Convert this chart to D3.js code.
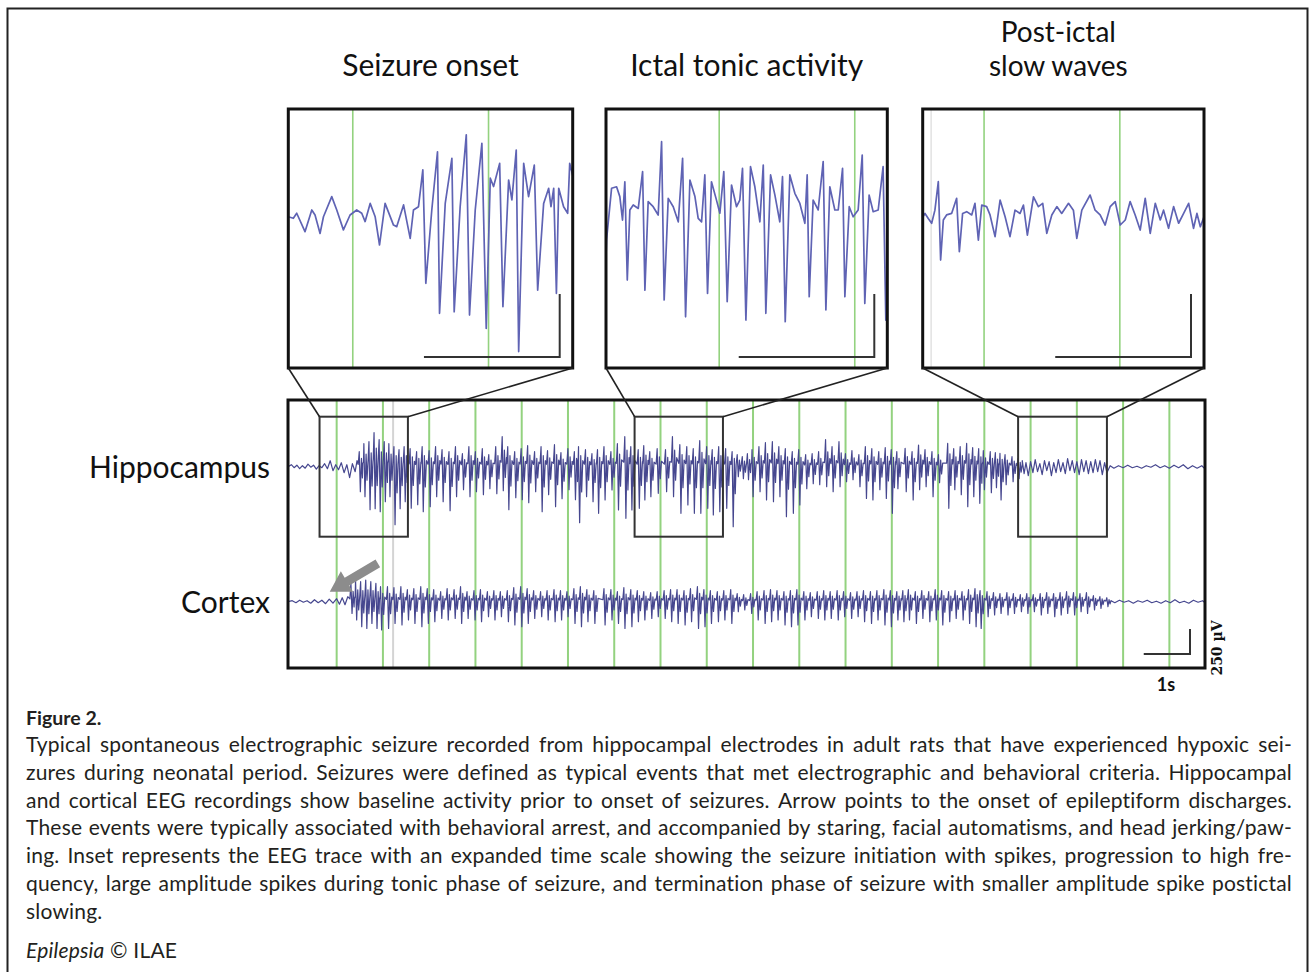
<!DOCTYPE html>
<html>
<head>
<meta charset="utf-8">
<title>Figure 2 - spontaneous electrographic seizure</title>
<script src="https://d3js.org/d3.v7.min.js"></script>
<style>
  body { margin: 0; background: #fff; }
  svg { display: block; font-family: Lato, "Open Sans", sans-serif; }
</style>
</head>
<body>
<svg id="fig" width="1312" height="972"></svg>
<script>
// ---- data (time in s, amplitude in µV) ----
const channelLabels = ["Hippocampus", "Cortex"];
const insetTitles = [["Seizure onset"], ["Ictal tonic activity"], ["Post-ictal", "slow waves"]];
const secondMarks = [0, 1, 2, 3, 4, 5, 6, 7, 8, 9, 10, 11, 12, 13, 14, 15, 16, 17, 18];
const grayMark = 1.22;

// zoomed windows: what the insets show, and the boxes drawn on the hippocampal trace
const insetWindows = [[-0.475, 1.62], [6.165, 8.24], [14.548, 16.62]];
const boxWindows = [[-0.37, 1.54], [6.44, 8.35], [14.73, 16.65]];
const boxRange = [-700, 500];

// main trace discharges: [time, positive peak, negative peak]
const hippoSpikes = [
  [0.50,150,-250],[0.60,230,-300],[0.71,250,-430],[0.82,340,-420],[0.93,270,-450],[1.04,250,-350],
  [1.14,230,-300],[1.25,200,-580],[1.36,170,-420],[1.47,200,-350],[1.60,180,-415],[1.74,150,-380],
  [1.86,200,-450],[2.01,160,-400],[2.15,200,-300],[2.29,170,-350],[2.44,150,-440],[2.58,200,-300],
  [2.73,130,-230],[2.87,200,-300],[3.01,150,-250],[3.16,180,-280],[3.30,120,-220],[3.45,200,-270],
  [3.59,300,-240],[3.71,200,-430],[3.86,150,-310],[4.00,180,-330],[4.14,210,-360],[4.29,150,-250],
  [4.43,200,-450],[4.57,160,-280],[4.72,220,-400],[4.86,140,-320],[5.01,180,-230],[5.15,150,-330],
  [5.24,200,-560],[5.39,170,-300],[5.53,130,-350],[5.65,170,-466],[5.79,200,-333],[5.94,150,-233],
  [6.08,230,-433],[6.24,300,-516],[6.37,200,-433],[6.53,170,-416],[6.65,210,-333],[6.78,150,-300],
  [6.94,180,-266],[7.12,170,-250],[7.27,300,-300],[7.43,220,-466],[7.58,200,-383],[7.72,180,-466],
  [7.86,260,-466],[8.01,200,-416],[8.13,170,-483],[8.27,200,-450],[8.42,180,-416],[8.56,150,-600],
  [8.67,120,-100],[8.78,100,-120],[8.89,130,-130],[8.99,170,-300],[9.14,200,-250],[9.28,240,-333],
  [9.43,250,-350],[9.57,200,-300],[9.71,180,-500],[9.86,150,-466],[10.00,170,-383],[10.15,120,-220],
  [10.29,130,-170],[10.43,150,-180],[10.58,270,-200],[10.72,200,-250],[10.87,250,-200],[11.01,130,-150],
  [11.15,160,-130],[11.30,120,-200],[11.44,200,-317],[11.58,180,-333],[11.73,150,-230],[11.87,190,-317],
  [12.00,170,-466],[12.12,150,-220],[12.30,183,-250],[12.45,150,-333],[12.59,217,-230],[12.73,170,-200],
  [12.88,150,-300],[13.02,120,-160],[13.22,233,-416],[13.35,180,-230],[13.49,200,-280],[13.63,233,-400],
  [13.76,190,-300],[13.89,180,-366],[13.99,160,-230],[14.14,150,-260],[14.25,140,-210],[14.35,133,-333],
  [14.46,120,-180],[14.61,100,-150],[14.74,80,-120]
];
const cortexSpikes = [
  [0.32,183,-117],[0.42,217,-183],[0.53,200,-250],[0.64,217,-267],[0.75,200,-217],[0.86,183,-267],
  [0.96,150,-283],[1.11,150,-267],[1.25,140,-217],[1.40,150,-233],[1.54,120,-183],[1.68,130,-217],
  [1.83,150,-250],[1.97,130,-217],[2.11,120,-200],[2.26,100,-167],[2.40,130,-183],[2.55,120,-167],
  [2.69,150,-217],[2.83,100,-167],[2.98,110,-183],[3.12,120,-200],[3.27,100,-150],[3.41,110,-183],
  [3.55,100,-150],[3.70,110,-200],[3.84,140,-233],[3.99,150,-250],[4.13,130,-217],[4.27,110,-167],
  [4.42,100,-150],[4.56,110,-183],[4.71,120,-200],[4.85,110,-183],[4.99,100,-150],[5.14,130,-217],
  [5.28,150,-250],[5.42,120,-200],[5.57,110,-217],[5.79,130,-233],[5.94,120,-183],[6.08,100,-217],
  [6.22,140,-267],[6.37,120,-250],[6.51,110,-200],[6.65,100,-183],[6.80,90,-167],[6.94,100,-150],
  [7.09,110,-167],[7.23,120,-200],[7.37,120,-217],[7.52,110,-233],[7.66,130,-200],[7.81,150,-267],
  [7.95,120,-250],[8.09,110,-217],[8.24,100,-200],[8.38,110,-183],[8.53,120,-217],[8.67,80,-100],
  [8.81,70,-83],[8.96,80,-117],[9.10,100,-183],[9.25,110,-217],[9.39,120,-200],[9.53,110,-183],
  [9.68,100,-233],[9.82,110,-250],[9.96,120,-233],[10.11,100,-183],[10.25,90,-150],[10.40,100,-167],
  [10.54,110,-183],[10.68,100,-167],[10.83,110,-183],[10.97,100,-150],[11.12,90,-167],[11.26,100,-150],
  [11.40,110,-200],[11.55,100,-217],[11.69,110,-183],[11.84,120,-233],[11.98,110,-250],[12.12,100,-183],
  [12.25,110,-200],[12.37,120,-183],[12.52,100,-217],[12.66,110,-167],[12.81,100,-200],[12.95,120,-183],
  [13.09,110,-233],[13.24,100,-200],[13.38,110,-167],[13.53,100,-183],[13.67,120,-217],[13.81,130,-250],
  [13.92,110,-267],[14.07,100,-150],[14.21,90,-133],[14.35,80,-117],[14.50,90,-133],[14.64,80,-117],
  [14.79,70,-100],[14.93,80,-117],[15.07,70,-100],[15.22,80,-133],[15.36,90,-117],[15.51,80,-150],
  [15.65,90,-133],[15.79,100,-117],[15.94,90,-133],[16.08,80,-100],[16.22,90,-117],[16.37,60,-83],
  [16.51,50,-67],[16.66,40,-50]
];

// background activity outside the discharges: [time, µV]
const hippoBackground = [
  [-1.05,0],[-0.98,20],[-0.92,-10],[-0.86,15],[-0.80,-20],[-0.74,10],[-0.68,-15],[-0.62,25],[-0.56,-5],
  [-0.50,15],[-0.44,-25],[-0.38,10],[-0.32,-10],[-0.26,30],[-0.20,-20],[-0.14,60],[-0.08,-40],[-0.02,20],
  [0.04,-30],[0.10,40],[0.16,-60],[0.22,20],[0.28,-110],[0.34,30],[0.40,-50],[0.44,60],
  [14.82,60],[14.86,-70],[14.90,40],[14.95,-90],[15.00,50],[15.05,-60],[15.10,70],[15.15,-50],[15.20,30],
  [15.25,-80],[15.30,60],[15.35,-40],[15.40,50],[15.45,-90],[15.50,40],[15.55,-60],[15.60,70],[15.65,-50],
  [15.70,40],[15.75,-70],[15.80,80],[15.85,-40],[15.90,60],[15.95,-60],[16.00,50],[16.05,-80],[16.10,70],
  [16.15,-50],[16.20,60],[16.25,-70],[16.30,50],[16.35,-60],[16.40,70],[16.45,-50],[16.50,60],[16.55,-80],
  [16.60,40],[16.65,-60],[16.72,10],[16.80,-15],[16.90,10],[17.00,-10],[17.10,15],[17.20,-10],[17.30,5],
  [17.40,-15],[17.50,10],[17.60,-5],[17.70,20],[17.80,-10],[17.90,10],[18.00,-15],[18.10,15],[18.20,-10],
  [18.30,20],[18.40,-20],[18.50,10],[18.60,-15],[18.70,10],[18.77,-20]
];
const cortexBackground = [
  [-1.05,0],[-0.96,10],[-0.88,-10],[-0.80,15],[-0.72,-5],[-0.64,10],[-0.56,-15],[-0.48,20],[-0.40,-10],
  [-0.32,15],[-0.24,-20],[-0.16,25],[-0.08,-15],[0.00,30],[0.06,-25],[0.12,40],[0.18,-30],[0.24,50],
  [16.74,10],[16.82,-10],[16.92,15],[17.02,-5],[17.12,10],[17.22,-15],[17.32,10],[17.42,-5],[17.52,15],
  [17.62,-10],[17.72,5],[17.82,-15],[17.92,10],[18.02,-10],[18.12,20],[18.22,-10],[18.32,5],[18.42,-15],
  [18.52,15],[18.62,-5],[18.72,10],[18.77,-10]
];

// inset traces (expanded time scale), hippocampus: [time, µV]
const onsetTrace = [
  [-0.475,-15],[-0.438,-21],[-0.413,-1],[-0.352,-74],[-0.302,12],[-0.278,-8],[-0.241,-81],[-0.216,-15],
  [-0.155,65],[-0.118,12],[-0.069,-67],[-0.020,-8],[0.029,12],[0.066,-1],[0.091,-34],[0.128,38],
  [0.165,-15],[0.197,-127],[0.238,38],[0.300,-48],[0.324,-54],[0.374,32],[0.423,-101],[0.447,12],
  [0.484,25],[0.516,171],[0.538,-279],[0.582,12],[0.624,243],[0.639,-398],[0.681,38],[0.730,217],
  [0.747,-392],[0.791,25],[0.836,310],[0.860,-405],[0.902,12],[0.951,276],[0.983,-458],[1.013,138],
  [1.037,105],[1.082,197],[1.106,-372],[1.148,131],[1.172,52],[1.204,250],[1.222,-550],[1.259,197],
  [1.295,65],[1.337,190],[1.362,-306],[1.406,38],[1.443,98],[1.460,25],[1.480,98],[1.500,-319],
  [1.517,98],[1.553,25],[1.583,-1],[1.598,197],[1.62,150]
];
const tonicTrace = [
  [6.165,-200],[6.169,-132],[6.206,73],[6.243,79],[6.267,40],[6.287,-53],[6.304,99],[6.322,-291],
  [6.341,-13],[6.366,7],[6.403,-7],[6.435,139],[6.452,-331],[6.476,20],[6.513,0],[6.550,-33],
  [6.575,258],[6.594,-370],[6.624,33],[6.661,0],[6.698,-60],[6.730,192],[6.752,-437],[6.784,106],
  [6.821,40],[6.845,-46],[6.870,-60],[6.894,126],[6.914,-344],[6.943,99],[6.980,26],[7.005,-26],
  [7.034,139],[7.059,-377],[7.091,86],[7.128,0],[7.152,26],[7.172,152],[7.197,-450],[7.231,159],
  [7.263,79],[7.300,-60],[7.325,165],[7.344,-423],[7.379,126],[7.411,46],[7.447,-60],[7.467,119],
  [7.487,-456],[7.521,126],[7.558,53],[7.595,13],[7.632,-66],[7.649,126],[7.664,-357],[7.693,26],
  [7.730,-13],[7.767,179],[7.787,-410],[7.816,79],[7.853,-13],[7.878,-13],[7.910,152],[7.927,-357],
  [7.959,0],[7.988,-40],[8.025,-13],[8.055,205],[8.074,-384],[8.106,46],[8.136,-20],[8.173,-13],
  [8.209,159],[8.229,-450],[8.24,-300]
];
const postictalTrace = [
  [14.55,0],[14.565,13],[14.589,-7],[14.614,-26],[14.638,26],[14.663,139],[14.680,-172],[14.700,-13],
  [14.724,7],[14.761,13],[14.798,73],[14.818,-139],[14.842,13],[14.872,20],[14.909,7],[14.933,53],
  [14.958,-93],[14.983,46],[15.019,40],[15.044,7],[15.081,-79],[15.118,66],[15.155,0],[15.191,-79],
  [15.228,26],[15.265,13],[15.290,46],[15.319,-73],[15.364,79],[15.400,40],[15.432,53],[15.462,-66],
  [15.499,7],[15.536,40],[15.572,13],[15.622,53],[15.658,26],[15.683,-86],[15.720,26],[15.781,86],
  [15.818,26],[15.855,7],[15.892,-33],[15.929,40],[15.966,60],[16.003,-33],[16.040,-13],[16.076,60],
  [16.113,7],[16.150,-53],[16.187,73],[16.224,-66],[16.261,53],[16.298,-13],[16.322,26],[16.359,-46],
  [16.396,40],[16.433,-26],[16.470,13],[16.507,53],[16.543,-46],[16.568,13],[16.593,-40],[16.62,0]
];
const insetTraces = [onsetTrace, tonicTrace, postictalTrace];

const captionTitle = "Figure 2.";
const captionLines = [
  "Typical spontaneous electrographic seizure recorded from hippocampal electrodes in adult rats that have experienced hypoxic sei-",
  "zures during neonatal period. Seizures were defined as typical events that met electrographic and behavioral criteria. Hippocampal",
  "and cortical EEG recordings show baseline activity prior to onset of seizures. Arrow points to the onset of epileptiform discharges.",
  "These events were typically associated with behavioral arrest, and accompanied by staring, facial automatisms, and head jerking/paw-",
  "ing. Inset represents the EEG trace with an expanded time scale showing the seizure initiation with spikes, progression to high fre-",
  "quency, large amplitude spikes during tonic phase of seizure, and termination phase of seizure with smaller amplitude spike postictal",
  "slowing."
];

// ---- layout ----
const svg = d3.select("#fig");
const traceColor = "#46478f", insetColor = "#5f63b4", green = "#93d27f";
const main = {x0: 288, x1: 1205, y0: 400, y1: 668};
const insets = [
  {x0: 288.3, x1: 572.7, base: 213},
  {x0: 606, x1: 887.3, base: 206.7},
  {x0: 922.7, x1: 1204, base: 216.7}
];
const insetTop = 109, insetBottom = 368;

svg.append("rect").attr("width", 1312).attr("height", 972).attr("fill", "#fff");
svg.append("rect").attr("x", 7.5).attr("y", 8.5).attr("width", 1300).attr("height", 990)
  .attr("fill", "none").attr("stroke", "#222").attr("stroke-width", 2);

const x = d3.scaleLinear().domain([-1.052, 18.77]).range([main.x0, main.x1]);
const yHip = d3.scaleLinear().domain([-700, 500]).range([536.7, 416.7]);
const yCtx = d3.scaleLinear().domain([-700, 500]).range([671.7, 551.7]);

// expand each discharge into a spike followed by a smaller after-wave
function expand(spikes) {
  return spikes.flatMap(([t, up, down]) => [
    [t - 0.035, up * 0.15], [t - 0.012, up], [t + 0.012, down], [t + 0.036, up * 0.55],
    [t + 0.056, down * 0.45], [t + 0.08, up * 0.3]
  ]);
}
const hippoTrace = expand(hippoSpikes).concat(hippoBackground).sort((a, b) => a[0] - b[0]);
const cortexTrace = expand(cortexSpikes).concat(cortexBackground).sort((a, b) => a[0] - b[0]);

const defs = svg.append("defs");
defs.append("clipPath").attr("id", "clip-main").append("rect")
  .attr("x", main.x0).attr("y", main.y0).attr("width", main.x1 - main.x0).attr("height", main.y1 - main.y0);

const gMain = svg.append("g").attr("clip-path", "url(#clip-main)");
gMain.selectAll("line.sec").data(secondMarks).join("line")
  .attr("x1", d => x(d)).attr("x2", d => x(d)).attr("y1", main.y0).attr("y2", main.y1)
  .attr("stroke", green).attr("stroke-width", 2);
gMain.append("line").attr("x1", x(grayMark)).attr("x2", x(grayMark)).attr("y1", main.y0).attr("y2", main.y1)
  .attr("stroke", "#d4d4d4").attr("stroke-width", 2);

gMain.append("path").datum(hippoTrace)
  .attr("d", d3.line().x(d => x(d[0])).y(d => yHip(d[1])))
  .attr("fill", "none").attr("stroke", traceColor).attr("stroke-width", 1.2).attr("stroke-linejoin", "round");
gMain.append("path").datum(cortexTrace)
  .attr("d", d3.line().x(d => x(d[0])).y(d => yCtx(d[1])))
  .attr("fill", "none").attr("stroke", traceColor).attr("stroke-width", 1.2).attr("stroke-linejoin", "round");

// boxes marking the zoomed windows
svg.selectAll("rect.zoombox").data(boxWindows).join("rect")
  .attr("x", d => x(d[0])).attr("y", yHip(boxRange[1]))
  .attr("width", d => x(d[1]) - x(d[0])).attr("height", yHip(boxRange[0]) - yHip(boxRange[1]))
  .attr("fill", "none").attr("stroke", "#333").attr("stroke-width", 2);

svg.append("rect").attr("x", main.x0).attr("y", main.y0)
  .attr("width", main.x1 - main.x0).attr("height", main.y1 - main.y0)
  .attr("fill", "none").attr("stroke", "#111").attr("stroke-width", 3);

// arrow at the cortical onset
(function () {
  const p0 = [x(0.89), yCtx(384)], p1 = [x(-0.15), yCtx(100)];
  const dx = p1[0] - p0[0], dy = p1[1] - p0[1], len = Math.hypot(dx, dy);
  const u = [dx / len, dy / len], n = [-u[1], u[0]];
  const b = [p1[0] - u[0] * 20, p1[1] - u[1] * 20];
  const pt = (p, k) => [p[0] + n[0] * k, p[1] + n[1] * k];
  const pts = [pt(p0, 4.5), pt(b, 4.5), pt(b, 12), p1, pt(b, -12), pt(b, -4.5), pt(p0, -4.5)];
  svg.append("polygon").attr("points", pts.map(p => p.join(",")).join(" ")).attr("fill", "#8c8c8c");
})();

// main scale bar: 1 s, 250 µV
const sbx = main.x1 - 15, sby = main.y1 - 14;
svg.append("path")
  .attr("d", `M${sbx - (x(1) - x(0))},${sby}H${sbx}V${sby - (yHip(0) - yHip(250))}`)
  .attr("fill", "none").attr("stroke", "#333").attr("stroke-width", 2);
svg.append("text").attr("x", 1166).attr("y", 691).attr("text-anchor", "middle")
  .attr("font-size", 18).attr("font-weight", 700).attr("fill", "#111").text("1s");
svg.append("text").attr("transform", "translate(1222,648) rotate(-90)").attr("text-anchor", "middle")
  .attr("font-family", "'DejaVu Serif', 'Liberation Serif', serif").attr("font-size", 14)
  .attr("font-weight", 700).attr("fill", "#111").text("250 µV");

// channel labels
[[channelLabels[0], yHip(0)], [channelLabels[1], yCtx(0)]].forEach(([label, y]) => {
  svg.append("text").attr("x", 270).attr("y", y + 11).attr("text-anchor", "end")
    .attr("font-size", 30).attr("fill", "#111").text(label);
});

// insets
insets.forEach((box, i) => {
  const xi = d3.scaleLinear().domain(insetWindows[i]).range([box.x0, box.x1]);
  const yi = d3.scaleLinear().domain([0, 250]).range([box.base, box.base - 63]);
  defs.append("clipPath").attr("id", "clip-inset" + i).append("rect")
    .attr("x", box.x0).attr("y", insetTop).attr("width", box.x1 - box.x0).attr("height", insetBottom - insetTop);
  const g = svg.append("g").attr("clip-path", `url(#clip-inset${i})`);
  g.append("rect").attr("x", box.x0).attr("y", insetTop).attr("width", box.x1 - box.x0)
    .attr("height", insetBottom - insetTop).attr("fill", "#fff");
  const marks = secondMarks.filter(s => s > insetWindows[i][0] && s < insetWindows[i][1]);
  g.selectAll("line.sec").data(marks).join("line")
    .attr("x1", d => xi(d)).attr("x2", d => xi(d)).attr("y1", insetTop).attr("y2", insetBottom)
    .attr("stroke", green).attr("stroke-width", 1.6);
  if (i === 2) {
    g.append("line").attr("x1", xi(14.61)).attr("x2", xi(14.61)).attr("y1", insetTop).attr("y2", insetBottom)
      .attr("stroke", "#e2e2e2").attr("stroke-width", 1.5);
  }
  g.append("path").datum(insetTraces[i])
    .attr("d", d3.line().x(d => xi(d[0])).y(d => yi(d[1])))
    .attr("fill", "none").attr("stroke", insetColor).attr("stroke-width", 1.7).attr("stroke-linejoin", "round");
  // scale bar: 1 s, 250 µV
  const cx = box.x1 - 13, cy = insetBottom - 11;
  g.append("path")
    .attr("d", `M${cx - (xi(insetWindows[i][0] + 1) - xi(insetWindows[i][0]))},${cy}H${cx}V${cy - 63}`)
    .attr("fill", "none").attr("stroke", "#333").attr("stroke-width", 2);
  svg.append("rect").attr("x", box.x0).attr("y", insetTop).attr("width", box.x1 - box.x0)
    .attr("height", insetBottom - insetTop).attr("fill", "none").attr("stroke", "#111").attr("stroke-width", 3);

  // connector lines to the boxed window
  const bw = boxWindows[i];
  [[box.x0, bw[0]], [box.x1, bw[1]]].forEach(([px, t]) => {
    svg.append("line").attr("x1", px).attr("y1", insetBottom).attr("x2", x(t)).attr("y2", yHip(boxRange[1]))
      .attr("stroke", "#222").attr("stroke-width", 1.6);
  });

  // titles (two-line title gets a smaller size and wider leading)
  const title = insetTitles[i];
  const cxT = (box.x0 + box.x1) / 2 - (title.length > 1 ? 5 : 0);
  const tt = svg.append("text").attr("text-anchor", "middle")
    .attr("font-size", title.length > 1 ? 28 : 30).attr("fill", "#111");
  title.forEach((line, k) => {
    tt.append("tspan").attr("x", cxT).attr("y", title.length === 1 ? 76 : 42 + k * 34).text(line);
  });
});

// caption, justified line by line as in the journal layout
const capLeft = 26, capRight = 1292, capSize = 21, capSpacing = 0.2, lineH = 27.8;
svg.append("text").attr("x", capLeft).attr("y", 725).attr("font-size", 19.5).attr("font-weight", 700)
  .attr("fill", "#231f20").text(captionTitle);
const measure = svg.append("text").attr("font-size", capSize).attr("letter-spacing", capSpacing)
  .attr("visibility", "hidden");
captionLines.forEach((line, i) => {
  const y = 752 + i * lineH;
  const t = svg.append("text").attr("y", y).attr("font-size", capSize).attr("letter-spacing", capSpacing)
    .attr("fill", "#231f20");
  const words = line.split(" ");
  if (i === captionLines.length - 1) {
    t.attr("x", capLeft).text(line);
    return;
  }
  const widths = words.map(w => { measure.text(w); return measure.node().getComputedTextLength(); });
  const gap = (capRight - capLeft - d3.sum(widths)) / (words.length - 1);
  let cx = capLeft;
  words.forEach((w, k) => {
    t.append("tspan").attr("x", cx).text(w);
    cx += widths[k] + gap;
  });
});
measure.remove();
const src = svg.append("text").attr("x", capLeft).attr("y", 958)
  .attr("font-size", capSize).attr("letter-spacing", capSpacing).attr("fill", "#231f20");
src.append("tspan").attr("font-style", "italic").text("Epilepsia");
src.append("tspan").text(" © ILAE");
</script>
</body>
</html>
